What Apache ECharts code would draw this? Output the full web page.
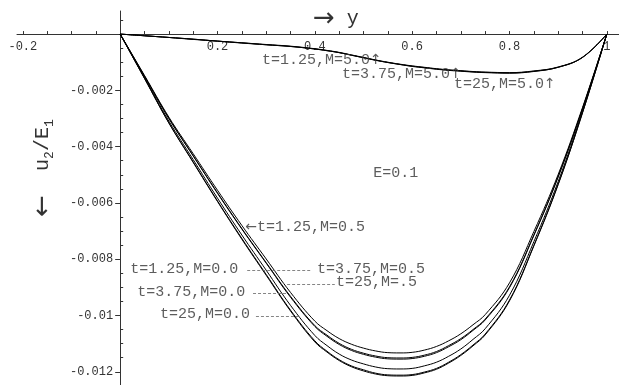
<!DOCTYPE html>
<html>
<head>
<meta charset="utf-8">
<script src="https://cdn.jsdelivr.net/npm/echarts@6/dist/echarts.min.js"></script>
<style>
  html, body { margin: 0; padding: 0; background: #fff; }
  #chart { width: 619px; height: 385px; }
</style>
</head>
<body>
<div id="chart"></div>
<script>
// Horizontal coordinate y (sample positions across the channel, denser near the minimum)
const yPos = [0, 0.05, 0.1, 0.15, 0.2, 0.25, 0.3, 0.35, 0.4, 0.425, 0.45, 0.475, 0.5, 0.525,
              0.55, 0.575, 0.6, 0.625, 0.65, 0.675, 0.7, 0.725, 0.75, 0.8, 0.85, 0.9, 0.95, 1];

// u2/E1 profiles, M = 5.0
const m50_t125 = [0, -0.00006, -0.00012, -0.00018, -0.00025, -0.00031, -0.00037, -0.00043, -0.00052, -0.00058, -0.00065, -0.00074, -0.00083, -0.00092,
                  -0.00100, -0.00107, -0.00113, -0.00118, -0.00123, -0.00127, -0.00130, -0.00133, -0.00135, -0.00137, -0.00131, -0.00117, -0.00082, 0];
const m50_t375 = [0, -0.00006, -0.00012, -0.00018, -0.00025, -0.00031, -0.00038, -0.00044, -0.00053, -0.00059, -0.00066, -0.00075, -0.00084, -0.00093,
                  -0.00101, -0.00108, -0.00114, -0.00119, -0.00124, -0.00128, -0.00131, -0.00134, -0.00136, -0.00138, -0.00132, -0.00118, -0.00083, 0];
const m50_t25  = [0, -0.00006, -0.00012, -0.00019, -0.00025, -0.00032, -0.00038, -0.00044, -0.00053, -0.00059, -0.00066, -0.00075, -0.00084, -0.00093,
                  -0.00101, -0.00108, -0.00115, -0.00120, -0.00125, -0.00129, -0.00132, -0.00135, -0.00137, -0.00139, -0.00133, -0.00118, -0.00083, 0];

// u2/E1 profiles, M = 0.5
const m05_t125 = [0, -0.00147, -0.00295, -0.00425, -0.00555, -0.00680, -0.00799, -0.00918, -0.01020, -0.01054, -0.01082, -0.01102, -0.01116, -0.01126,
                  -0.01132, -0.01133, -0.01131, -0.01123, -0.01110, -0.01090, -0.01065, -0.01033, -0.00997, -0.00884, -0.00702, -0.00499, -0.00261, 0];
const m05_t375 = [0, -0.00150, -0.00299, -0.00432, -0.00564, -0.00691, -0.00812, -0.00932, -0.01036, -0.01070, -0.01099, -0.01120, -0.01134, -0.01144,
                  -0.01150, -0.01151, -0.01149, -0.01141, -0.01128, -0.01107, -0.01082, -0.01050, -0.01013, -0.00898, -0.00714, -0.00506, -0.00265, 0];
const m05_t25  = [0, -0.00150, -0.00300, -0.00433, -0.00566, -0.00693, -0.00814, -0.00935, -0.01039, -0.01074, -0.01103, -0.01124, -0.01138, -0.01148,
                  -0.01154, -0.01155, -0.01153, -0.01145, -0.01132, -0.01111, -0.01086, -0.01053, -0.01016, -0.00901, -0.00716, -0.00508, -0.00266, 0];

// u2/E1 profiles, M = 0.0
const m00_t125 = [0, -0.00155, -0.00309, -0.00446, -0.00583, -0.00714, -0.00839, -0.00964, -0.01071, -0.01107, -0.01137, -0.01158, -0.01172, -0.01183,
                  -0.01189, -0.01190, -0.01188, -0.01179, -0.01166, -0.01145, -0.01119, -0.01085, -0.01047, -0.00928, -0.00738, -0.00524, -0.00274, 0];
const m00_t375 = [0, -0.00157, -0.00315, -0.00454, -0.00593, -0.00726, -0.00854, -0.00981, -0.01090, -0.01127, -0.01157, -0.01179, -0.01193, -0.01205,
                  -0.01211, -0.01212, -0.01210, -0.01201, -0.01188, -0.01166, -0.01139, -0.01105, -0.01066, -0.00945, -0.00751, -0.00533, -0.00279, 0];
const m00_t25  = [0, -0.00158, -0.00316, -0.00456, -0.00595, -0.00729, -0.00857, -0.00984, -0.01094, -0.01130, -0.01160, -0.01182, -0.01197, -0.01208,
                  -0.01214, -0.01215, -0.01213, -0.01204, -0.01191, -0.01169, -0.01142, -0.01108, -0.01069, -0.00948, -0.00753, -0.00535, -0.00280, 0];

// Tick positions and labels
const xTicks = [-0.2, -0.15, -0.1, -0.05, 0, 0.05, 0.1, 0.15, 0.2, 0.25, 0.3, 0.35, 0.4, 0.45, 0.5,
                0.55, 0.6, 0.65, 0.7, 0.75, 0.8, 0.85, 0.9, 0.95, 1];
const xLabels = [-0.2, 0.2, 0.4, 0.6, 0.8, 1];
const yMajor = [-0.012, -0.01, -0.008, -0.006, -0.004, -0.002];
const yMinor = [-0.0125, -0.0115, -0.011, -0.0105, -0.0095, -0.009, -0.0085, -0.0075, -0.007, -0.0065,
                -0.0055, -0.005, -0.0045, -0.0035, -0.003, -0.0025, -0.0015, -0.001, -0.0005, 0.0005];

// Curve annotations: [y, u2/E1, text] ({ar|...} marks an arrow glyph)
const notes = [
  [0.2915, -0.00092, 't=1.25,M=5.0{ar|\u2191}'],
  [0.456, -0.00142, 't=3.75,M=5.0{ar|\u2191}'],
  [0.686, -0.00178, 't=25,M=5.0{ar|\u2191}'],
  [0.520, -0.00494, 'E=0.1'],
  [0.257, -0.00686, '{ar|\u2190}t=1.25,M=0.5'],
  [0.0205, -0.00835, 't=1.25,M=0.0'],
  [0.4045, -0.00835, 't=3.75,M=0.5'],
  [0.4435, -0.00881, 't=25,M=.5'],
  [0.035, -0.00917, 't=3.75,M=0.0'],
  [0.082, -0.00995, 't=25,M=0.0']
];
// Dashed leaders: [y start, y end, u2/E1]
const leaders = [
  [0.261, 0.394, -0.00838],
  [0.343, 0.441, -0.00888],
  [0.273, 0.343, -0.00920],
  [0.279, 0.370, -0.01002]
];

const curves = [m50_t125, m50_t375, m50_t25, m05_t125, m05_t375, m05_t25, m00_t125, m00_t375, m00_t25];

// Plot window and axis ranges
const W = 619, H = 385;
const gLeft = 17, gRight = 0, gTop = 11, gBottom = 0;
const xMin = -0.212, xMax = 1.025;
const yMin = -0.01247, yMax = 0.00082;
const gW = W - gLeft - gRight, gH = H - gTop - gBottom;
// Axes cross at the origin: shift them from the grid edges to zero
const xAxisOffset = -(gH * (0 - yMin) / (yMax - yMin));
const yAxisOffset = -(gW * (0 - xMin) / (xMax - xMin));

const chart = echarts.init(document.getElementById('chart'), null, { renderer: 'canvas' });
const mono = 'Liberation Mono, Courier New, monospace';
const arrowFont = 'DejaVu Sans';
const axisColor = '#333';

const series = curves.map(vals => ({
  type: 'line',
  data: yPos.map((x, i) => [x, vals[i]]),
  showSymbol: false,
  smooth: 0.4,
  lineStyle: { color: '#000', width: 1 },
  silent: true,
  z: 3
}));

series.push({
  type: 'scatter',
  data: notes,
  symbolSize: 0,
  silent: true,
  label: {
    show: true,
    position: [0, 0],
    align: 'left',
    verticalAlign: 'middle',
    formatter: p => p.data[2],
    fontFamily: mono,
    fontSize: 15,
    color: '#333',
    rich: {
      ar: { fontFamily: arrowFont, fontSize: 14, color: '#333' }
    }
  },
  markLine: {
    silent: true,
    symbol: 'none',
    label: { show: false },
    lineStyle: { color: '#666', width: 0.8, type: [3, 2] },
    data: leaders.map(l => [{ coord: [l[0], l[2]] }, { coord: [l[1], l[2]] }])
  },
  z: 4
});

chart.setOption({
  animation: false,
  backgroundColor: '#fff',
  grid: { left: gLeft, right: gRight, top: gTop, bottom: gBottom, containLabel: false, outerBoundsMode: 'none' },
  xAxis: {
    type: 'value',
    min: xMin,
    max: xMax,
    position: 'bottom',
    offset: xAxisOffset,
    axisLine: { show: true, onZero: false, lineStyle: { color: axisColor, width: 1 } },
    axisTick: { show: true, inside: true, length: 3, customValues: xTicks, lineStyle: { color: axisColor } },
    axisLabel: {
      show: true, customValues: xLabels, margin: 7,
      fontFamily: mono, fontSize: 12, color: '#333',
      formatter: v => String(v)
    },
    splitLine: { show: false }
  },
  yAxis: [{
    type: 'value',
    min: yMin,
    max: yMax,
    position: 'left',
    offset: yAxisOffset,
    axisLine: { show: true, onZero: false, lineStyle: { color: axisColor, width: 1 } },
    axisTick: { show: true, inside: false, length: 5, customValues: yMajor, lineStyle: { color: axisColor } },
    axisLabel: {
      show: true, customValues: yMajor, margin: 7,
      fontFamily: mono, fontSize: 12, color: '#333',
      formatter: v => String(Number(v.toFixed(4)))
    },
    splitLine: { show: false }
  }, {
    type: 'value',
    min: yMin,
    max: yMax,
    position: 'left',
    offset: yAxisOffset,
    axisLine: { show: false, onZero: false },
    axisTick: { show: true, inside: true, length: 3, customValues: yMinor, lineStyle: { color: axisColor } },
    axisLabel: { show: false },
    splitLine: { show: false }
  }],
  graphic: [
    {
      // horizontal axis title
      type: 'text',
      x: 313, y: 19,
      style: {
        text: '{ar|\u2192}{t| y}',
        verticalAlign: 'middle',
        rich: {
          ar: { fontFamily: arrowFont, fontSize: 26, fill: '#333', lineHeight: 26 },
          t: { fontFamily: mono, fontSize: 20, fill: '#333', lineHeight: 26 }
        }
      }
    },
    {
      // vertical axis title
      type: 'text',
      x: 43, y: 168,
      rotation: Math.PI / 2,
      style: {
        text: '{ar|\u2190}{t|  u}{s|2}{t|/E}{s|1}',
        align: 'center',
        verticalAlign: 'middle',
        rich: {
          ar: { fontFamily: arrowFont, fontSize: 26, fill: '#333', lineHeight: 26, verticalAlign: 'middle' },
          t: { fontFamily: mono, fontSize: 20, fill: '#333', lineHeight: 26, verticalAlign: 'middle' },
          s: { fontFamily: mono, fontSize: 13, fill: '#333', lineHeight: 26, verticalAlign: 'bottom' }
        }
      }
    }
  ],
  series: series
});
</script>
</body>
</html>
